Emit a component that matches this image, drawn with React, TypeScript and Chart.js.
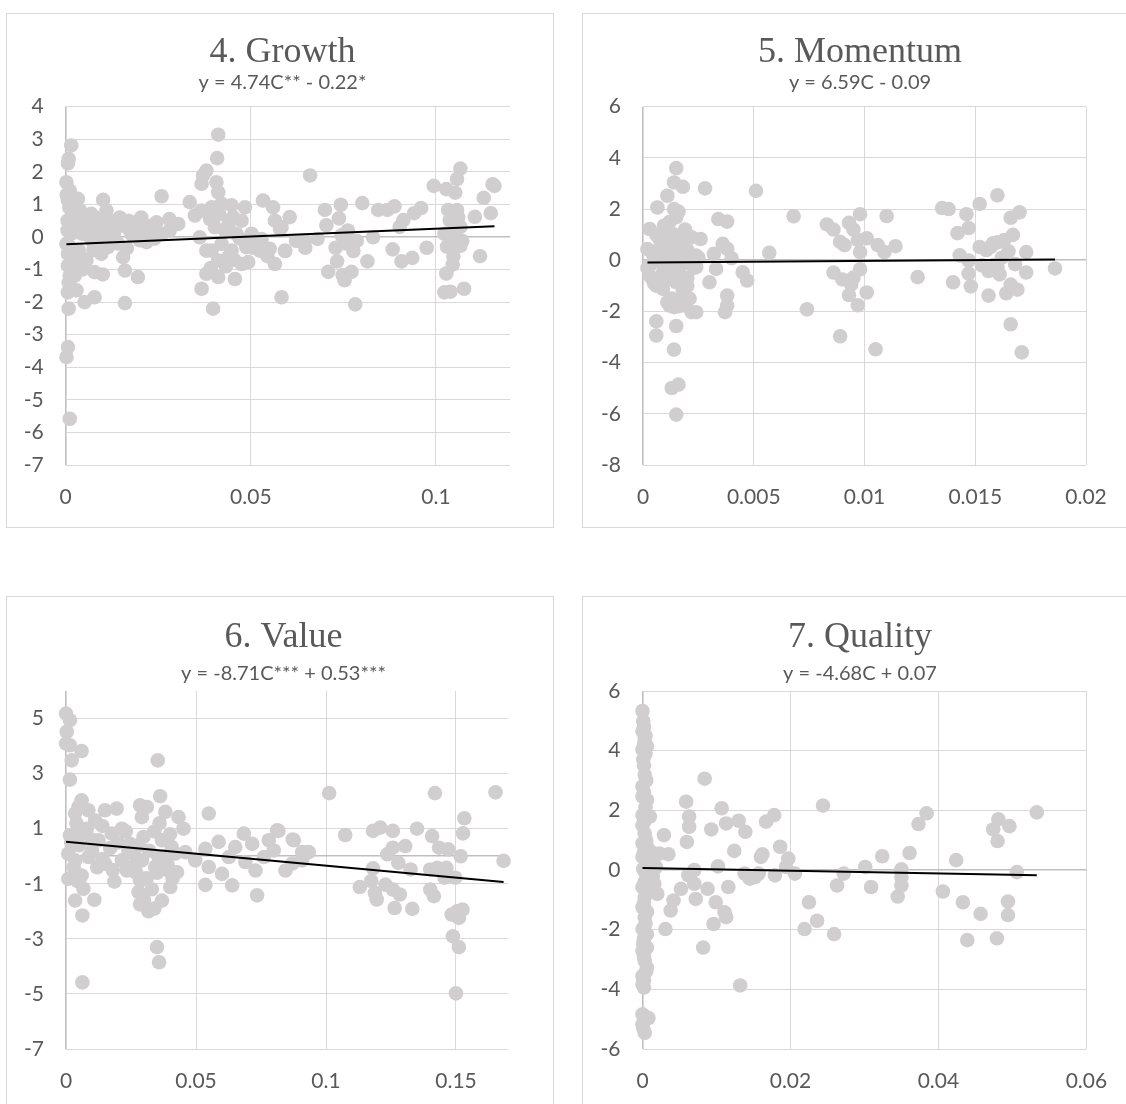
import React, { useEffect, useRef } from 'react';
import { Chart, registerables } from 'chart.js';

Chart.register(...registerables);

// ---------- data (C, y) ----------
const growthPoints: [number, number][] = [
  [0.0015,2.81],[0.0008,2.40],[0.0006,2.26],[0.0002,1.68],[0.0011,1.42],[0.0006,1.12],[0.0033,1.17],[0.0101,1.14],[0.0110,0.81],[0.0069,0.71],[0.0024,0.71],[0.0051,0.50],[0.0087,0.40],[0.0119,0.30],[0.0146,0.60],[0.0150,0.35],[0.0173,0.20],[0.0204,0.60],[0.0245,0.45],[0.0259,1.25],[0.0218,-0.16],[0.0304,0.40],[0.0281,0.20],[0.0002,-0.21],[0.0006,-0.52],[0.0006,-0.88],[0.0011,-1.19],[0.0024,-1.19],[0.0078,-1.08],[0.0056,-0.72],[0.0096,-0.52],[0.0114,-0.31],[0.0006,-1.70],[0.0029,-1.64],[0.0051,-2.00],[0.0078,-1.85],[0.0008,-2.20],[0.0160,-2.03],[0.0195,-1.23],[0.0160,-1.03],[0.0155,-0.62],[0.0006,-3.38],[0.0002,-3.69],[0.0011,-5.58],
  [0.0010,0.90],[0.0020,0.50],[0.0030,0.30],[0.0015,0.10],[0.0040,0.80],[0.0045,0.10],[0.0060,0.30],[0.0070,-0.10],[0.0080,0.60],[0.0090,0.10],[0.0035,-0.40],[0.0020,-0.70],[0.0045,-1.00],[0.0010,-0.30],[0.0120,0.50],[0.0130,0.05],[0.0140,-0.20],[0.0170,0.50],[0.0190,0.30],[0.0220,0.35],[0.0240,-0.05],[0.0260,0.10],[0.0280,0.55],[0.0200,-0.10],[0.0165,-0.35],[0.0005,0.50],[0.0005,0.20],[0.0025,1.00],[0.0015,-0.90],[0.0003,1.30],[0.0030,0.60],[0.0050,0.65],[0.0065,0.05],[0.0100,-0.10],[0.0105,0.55],[0.0008,-1.40],[0.0040,-0.60],[0.0075,-0.40],[0.0085,0.20],[0.0100,-1.15],[0.0210,0.10],[0.0180,0.05],[0.0230,0.15],
  [0.0335,1.07],[0.0349,0.66],[0.0367,0.81],[0.0394,0.91],[0.0421,1.02],[0.0448,0.97],[0.0484,0.91],[0.0452,0.61],[0.0475,0.50],[0.0362,-0.01],[0.0394,-0.42],[0.0412,-0.72],[0.0380,-1.13],[0.0412,-1.23],[0.0367,-1.59],[0.0398,-2.20],[0.0457,-1.29],[0.0439,-0.62],[0.0475,-0.83],[0.0493,-0.77],[0.0511,-0.21],[0.0529,-0.06],[0.0524,-0.42],[0.0412,3.14],[0.0409,2.42],[0.0380,2.04],[0.0371,1.89],[0.0367,1.63],[0.0407,1.68],[0.0412,1.37],[0.0403,0.30],[0.0430,0.20],[0.0461,0.10],[0.0421,-0.21],[0.0448,-0.42],[0.0488,-0.31],[0.0380,-0.42],[0.0502,0.10],[0.0390,0.55],[0.0415,0.70],[0.0440,0.40],[0.0470,-0.05],[0.0392,-0.95],[0.0433,-0.90],[0.0455,-0.70],
  [0.0533,1.12],[0.0560,0.91],[0.0565,0.50],[0.0605,0.61],[0.0551,-0.36],[0.0592,-0.42],[0.0583,0.30],[0.0565,-0.83],[0.0583,-1.85],[0.0646,-0.11],[0.0660,1.89],[0.0545,-0.59],[0.0497,-0.12],[0.0507,-0.33],[0.0579,0.25],[0.0593,-0.43],[0.0622,-0.12],[0.0647,-0.33],[0.0680,-0.06],
  [0.0700,0.83],[0.0704,0.36],[0.0709,-1.07],[0.0743,0.99],[0.0738,0.57],[0.0729,-0.33],[0.0733,-0.75],[0.0748,-1.17],[0.0753,-1.33],[0.0772,-1.07],[0.0782,-2.07],[0.0777,-0.43],[0.0762,0.20],[0.0786,-0.12],[0.0745,0.05],[0.0758,-0.20],
  [0.0801,1.04],[0.0815,-0.75],[0.0830,-0.01],[0.0844,0.83],[0.0869,0.83],[0.0883,-0.38],[0.0888,0.94],[0.0902,0.31],[0.0907,-0.75],[0.0912,0.52],[0.0936,-0.64],[0.0941,0.73],[0.0960,0.89],[0.0975,-0.33],[0.0994,1.57],
  [0.1028,-1.12],[0.1028,1.47],[0.1033,0.83],[0.1037,0.52],[0.1042,-0.12],[0.1047,-0.59],[0.1023,-1.70],[0.1039,-1.68],[0.1076,-1.59],[0.1057,1.78],[0.1066,2.10],[0.1052,1.36],[0.1057,0.83],[0.1066,0.31],[0.1071,-0.12],[0.1066,-0.27],[0.1023,0.10],[0.1030,-0.30],[0.1050,0.20],[0.1060,0.60],[0.1045,-0.85],[0.1105,0.62],[0.1119,-0.59],[0.1129,1.20],[0.1148,0.73],[0.1153,1.62],[0.1158,1.57],
];

const momentumPoints: [number, number][] = [
  [0.0015,3.60],[0.0014,3.04],[0.0018,2.87],[0.0028,2.81],[0.0051,2.71],[0.0011,2.52],[0.00065,2.06],[0.0014,2.00],[0.0015,1.68],[0.0034,1.61],[0.0038,1.51],[0.0068,1.72],[0.0003,1.22],[0.00095,1.35],[0.0012,1.09],[0.0017,0.96],[0.0021,0.90],[0.0026,0.83],[0.0036,0.64],[0.0038,0.45],[0.0057,0.29],[0.0024,0.18],[0.0032,0.25],[0.0040,0.08],[0.0002,0.44],[0.0003,-0.21],[0.0003,-0.60],[0.0006,-0.99],[0.0009,-0.47],[0.0012,-0.73],[0.0015,-0.86],[0.0018,-1.38],[0.0011,-1.64],[0.0014,-1.83],[0.0009,-1.12],[0.0005,0.18],[0.0008,0.57],[0.0017,-0.21],[0.0019,-1.77],[0.0012,-1.77],[0.0024,-0.27],[0.0033,-0.34],[0.0030,-0.86],[0.0045,-0.47],[0.0047,-0.79],[0.0022,-2.03],[0.0024,-2.03],[0.0038,-1.38],[0.0038,-1.77],[0.0037,-2.03],[0.0006,-2.39],[0.0006,-2.94],[0.0015,-2.57],[0.0014,-3.49],[0.0013,-4.99],[0.0016,-4.86],[0.0015,-6.03],[0.0074,-1.92],
  [0.0002,-0.30],[0.0004,-0.70],[0.0007,0.90],[0.0008,-0.90],[0.0010,0.10],[0.0011,0.60],[0.0012,1.50],[0.0013,0.30],[0.0013,-1.50],[0.0014,-0.20],[0.0014,1.00],[0.0015,0.50],[0.0016,-1.80],[0.0016,1.90],[0.0017,0.20],[0.0018,-1.20],[0.0018,0.80],[0.0019,-0.10],[0.0019,1.20],[0.0020,-0.70],[0.0020,0.40],[0.0021,-1.50],[0.0022,0.90],[0.0023,-0.30],[0.0005,-0.90],[0.0007,0.00],[0.0009,0.70],[0.0004,0.30],[0.0006,1.00],[0.0010,-0.40],[0.0016,-0.50],[0.0020,-1.00],[0.0009,-0.15],[0.0025,0.10],
  [0.0083,1.40],[0.0086,1.20],[0.0089,0.72],[0.0091,0.59],[0.0086,-0.48],[0.0090,-0.75],[0.0093,1.46],[0.0098,1.80],[0.0095,1.20],[0.0097,0.79],[0.0101,0.86],[0.0098,0.32],[0.0098,-0.35],[0.0095,-0.68],[0.0094,-0.95],[0.0093,-1.36],[0.0101,-1.26],[0.0097,-1.76],[0.0089,-2.97],[0.0105,-3.48],[0.0106,0.59],[0.0109,0.32],[0.0110,1.73],[0.0114,0.55],[0.0124,-0.66],
  [0.0135,2.04],[0.0138,2.00],[0.0140,-0.86],[0.0142,1.06],[0.0146,1.80],[0.0147,1.26],[0.0143,0.19],[0.0147,-0.01],[0.0147,-0.52],[0.0148,-1.02],[0.0152,2.20],[0.0160,2.54],[0.0152,0.52],[0.0155,0.40],[0.0157,0.52],[0.0158,0.66],[0.0160,0.70],[0.0163,0.79],[0.0153,-0.20],[0.0156,-0.42],[0.0158,-0.20],[0.0160,-0.28],[0.0161,-0.55],[0.0156,-1.38],[0.0164,-1.29],[0.0166,-0.95],[0.0166,1.66],[0.0167,0.99],[0.0170,1.87],[0.0168,-0.15],[0.0169,-1.15],[0.0166,-2.50],[0.0171,-3.60],[0.0173,0.32],[0.0173,-0.48],[0.0186,-0.32],[0.0165,0.35],[0.0162,0.10],
];

const valuePoints: [number, number][] = [
  [0.0000,5.18],[0.0015,4.94],[0.0003,4.52],[0.0000,4.09],[0.0015,4.03],[0.0022,3.48],[0.0060,3.82],[0.0353,3.48],[0.0015,2.78],[0.0362,2.18],[0.0549,1.55],[0.0060,2.03],[0.0048,1.79],[0.0035,1.55],[0.0086,1.67],[0.0150,1.67],[0.0195,1.73],[0.0285,1.85],[0.0311,1.79],[0.0292,1.42],[0.0382,1.61],[0.0433,1.42],[0.0452,1.00],[0.0215,1.00],[0.0112,1.30],[0.0015,0.76],[0.0060,0.82],[0.0125,0.58],[0.0176,0.82],[0.0247,0.45],[0.0298,0.70],[0.0369,0.58],[0.0407,0.33],[0.0009,0.09],[0.0035,-0.15],[0.0086,-0.03],[0.0150,-0.27],[0.0215,-0.15],[0.0253,-0.39],[0.0292,-0.15],[0.0343,-0.39],[0.0394,-0.52],[0.0420,-0.58],[0.0009,-0.82],[0.0060,-0.70],[0.0067,-1.18],[0.0035,-1.61],[0.0109,-1.58],[0.0063,-2.15],[0.0186,-0.92],[0.0234,-0.52],[0.0285,-0.88],[0.0279,-1.30],[0.0285,-1.75],[0.0317,-2.00],[0.0369,-1.61],[0.0401,-1.12],[0.0427,-0.58],[0.0356,-0.03],[0.0350,-3.30],[0.0358,-3.85],[0.0063,-4.58],
  [0.0040,1.20],[0.0080,1.00],[0.0100,0.60],[0.0140,1.10],[0.0170,0.30],[0.0200,0.50],[0.0230,0.90],[0.0260,0.10],[0.0280,0.40],[0.0320,0.20],[0.0340,0.90],[0.0360,1.20],[0.0380,0.00],[0.0400,0.80],[0.0420,0.10],[0.0050,0.40],[0.0120,-0.40],[0.0180,-0.50],[0.0270,-0.60],[0.0310,-0.80],[0.0330,-1.20],[0.0350,-0.60],[0.0390,-0.30],[0.0410,-0.80],[0.0020,0.50],[0.0030,-0.40],[0.0100,0.20],[0.0140,-0.10],[0.0240,0.20],[0.0300,-1.60],[0.0340,-1.90],[0.0045,-0.90],
  [0.0459,0.15],[0.0497,-0.15],[0.0536,0.27],[0.0549,-0.39],[0.0587,0.52],[0.0536,-1.04],[0.0600,-0.64],[0.0639,-1.06],[0.0651,0.33],[0.0684,0.82],[0.0716,0.45],[0.0729,-0.52],[0.0735,-1.42],[0.0780,0.58],[0.0812,0.94],[0.0799,0.21],[0.0844,-0.52],[0.0876,0.58],[0.0908,0.15],[0.0934,0.15],[0.0761,-0.03],[0.0690,-0.21],[0.0626,-0.03],[0.0870,-0.27],[0.0908,-0.15],
  [0.0924,0.13],[0.0872,0.61],[0.0817,0.92],[0.1012,2.29],[0.1074,0.77],[0.1130,-1.12],[0.1181,0.92],[0.1209,1.04],[0.1181,-0.44],[0.1174,-0.90],[0.1188,-1.33],[0.1195,-1.57],[0.1236,0.07],[0.1257,0.31],[0.1257,0.92],[0.1229,-1.03],[0.1257,-1.21],[0.1284,-1.39],[0.1264,-1.88],[0.1305,0.37],[0.1278,-0.24],[0.1325,-0.48],[0.1332,-1.91],[0.1350,1.00],[0.1401,-0.48],[0.1408,0.73],[0.1428,-0.42],[0.1435,0.31],[0.1470,0.25],[0.1463,-0.42],[0.1456,-0.78],[0.1497,-0.78],[0.1518,0.00],[0.1419,2.29],[0.1401,-1.21],[0.1415,-1.45],[0.1483,-2.12],[0.1511,-2.24],[0.1525,-1.94],[0.1504,-2.00],[0.1488,-2.91],[0.1511,-3.30],[0.1500,-4.98],[0.1532,1.38],[0.1527,0.83],[0.1652,2.32],[0.1683,-0.17],
];

const qualityPoints: [number, number][] = [
  [0.0000,5.33],[0.0001,4.99],[0.0000,4.65],[0.0003,4.37],[0.0006,4.15],[0.0000,4.03],[0.0001,3.70],[0.0003,3.19],[0.0000,2.80],[0.0000,2.46],[0.0006,2.35],[0.0000,1.84],[0.0010,1.79],[0.0000,1.50],[0.0003,1.22],[0.0000,0.89],[0.0006,0.78],[0.0000,0.44],[0.0001,0.04],[0.0006,-0.24],[0.0000,-0.57],[0.0003,-0.91],[0.0000,-1.25],[0.0003,-1.58],[0.0000,-1.98],[0.0006,-2.15],[0.0001,-2.48],[0.0000,-2.71],[0.0003,-3.04],[0.0006,-3.27],[0.0000,-3.55],[0.0000,-3.83],[0.0002,-3.94],[0.0000,-4.84],[0.0008,-4.96],[0.0000,-5.18],[0.0003,-5.46],
  [0.0002,4.80],[0.0004,4.50],[0.0002,4.20],[0.0004,3.90],[0.0002,3.50],[0.0005,3.00],[0.0002,2.60],[0.0004,2.10],[0.0002,1.60],[0.0005,1.00],[0.0002,0.60],[0.0008,0.30],[0.0004,-0.10],[0.0003,-0.40],[0.0007,-0.70],[0.0002,-1.10],[0.0006,-1.40],[0.0004,-1.80],[0.0002,-2.30],[0.0006,-2.60],[0.0002,-2.90],[0.0005,-3.40],[0.0002,-3.70],[0.0003,-4.90],[0.0001,-5.30],
  [0.0015,0.44],[0.0018,0.10],[0.0020,-0.80],[0.0016,-0.46],[0.0011,-0.57],[0.0012,0.60],[0.0014,-0.20],
  [0.0029,1.17],[0.0035,0.53],[0.0023,0.55],[0.0031,-1.98],[0.0038,-1.36],[0.0042,-1.02],[0.0052,-0.63],[0.0059,2.29],[0.0063,1.79],[0.0063,1.45],[0.0060,0.94],[0.0062,-0.18],[0.0070,0.00],[0.0070,-0.46],[0.0072,-0.97],[0.0084,3.06],[0.0082,-2.60],[0.0093,1.36],[0.0088,-0.63],[0.0096,-1.81],[0.0099,-1.08],[0.0102,0.12],[0.0107,2.07],[0.0116,-0.57],[0.0113,1.56],[0.0130,1.65],[0.0111,-1.42],[0.0113,-1.58],[0.0124,0.64],[0.0139,1.28],[0.0132,-3.87],[0.0138,-0.12],[0.0145,-0.29],[0.0152,-0.24],[0.0157,-0.12],[0.0160,0.44],[0.0162,0.53],[0.0167,1.62],[0.0178,1.84],[0.0179,-0.18],[0.0186,0.78],[0.0197,0.38],[0.0194,0.10],[0.0206,-0.12],[0.0219,-1.98],[0.0225,-1.08],[0.0236,-1.70],[0.0244,2.16],[0.0259,-2.15],[0.0263,-0.52],[0.0272,-0.12],[0.0301,0.10],[0.0309,-0.57],[0.0324,0.46],[0.0345,-0.89],[0.0350,0.02],[0.0350,-0.24],[0.0350,-0.52],[0.0361,0.57],[0.0373,1.54],[0.0384,1.90],[0.0406,-0.72],[0.0424,0.33],[0.0433,-1.08],[0.0439,-2.35],[0.0457,-1.47],[0.0474,1.36],[0.0481,1.70],[0.0480,0.97],[0.0496,1.47],[0.0479,-2.29],[0.0494,-1.06],[0.0494,-1.51],[0.0506,-0.07],[0.0533,1.93],
];

const titles = ['4. Growth', '5. Momentum', '6. Value', '7. Quality'];
const equations = ['y = 4.74C** - 0.22*', 'y = 6.59C - 0.09', 'y = -8.71C*** + 0.53***', 'y = -4.68C + 0.07'];
const slopes = [4.74, 6.59, -8.71, -4.68];
const intercepts = [-0.22, -0.09, 0.53, 0.07];
const xMaxes = [0.12, 0.02, 0.17, 0.06];
const xTicks = [[0, 0.05, 0.1], [0, 0.005, 0.01, 0.015, 0.02], [0, 0.05, 0.1, 0.15], [0, 0.02, 0.04, 0.06]];
const yMins = [-7, -8, -7, -6];
const yMaxes = [4, 6, 6, 6];
const yTicks = [
  [-7, -6, -5, -4, -3, -2, -1, 0, 1, 2, 3, 4],
  [-8, -6, -4, -2, 0, 2, 4, 6],
  [-7, -5, -3, -1, 0, 1, 3, 5],
  [-6, -4, -2, 0, 2, 4, 6],
];
const yHiddenLabels = [[], [], [0], []];
const pointSets = [growthPoints, momentumPoints, valuePoints, qualityPoints];

// ---------- layout (page pixels) ----------
// cw is chosen so the canvas centre is the title centre; rightW is an empty right-hand
// box that pulls the plot's right edge in without moving the title.
const CANVAS_H = 513;
const LAYOUT = [
  { bx: 6, by: 13, cx: 7, cy: 14, cw: 551, axisW: 58.7, rightW: 48, tPadTop: 20.3, sPadTop: 2.4, sPadBottom: 14, xAxisH: 62 },
  { bx: 582, by: 13, cx: 583, cy: 14, cw: 554, axisW: 60, rightW: 51, tPadTop: 20.3, sPadTop: 2.4, sPadBottom: 14, xAxisH: 62 },
  { bx: 6, by: 596, cx: 7, cy: 597, cw: 553, axisW: 59, rightW: 52, tPadTop: 23, sPadTop: 7.5, sPadBottom: 7.5, xAxisH: 61 },
  { bx: 582, by: 596, cx: 583, cy: 597, cw: 554, axisW: 59.5, rightW: 50.6, tPadTop: 23, sPadTop: 7.5, sPadBottom: 7.5, xAxisH: 61 },
];
const GRID = '#d9d9d9';
const AXIS = '#bfbfbf';
const TEXT = '#595959';
const TICK_FONT = { family: 'Lato, "Noto Sans", sans-serif', size: 21 };

function fmt(v: number) {
  return String(Number(v.toFixed(4)));
}

function Panel({ idx }: { idx: number }) {
  const ref = useRef<HTMLCanvasElement | null>(null);
  const L = LAYOUT[idx];
  useEffect(() => {
    if (!ref.current) return;
    const pts = pointSets[idx];
    const xs = pts.map((p) => p[0]);
    const x0 = Math.min(...xs);
    const x1 = Math.max(...xs);
    const trend = [
      { x: x0, y: slopes[idx] * x0 + intercepts[idx] },
      { x: x1, y: slopes[idx] * x1 + intercepts[idx] },
    ];
    const gridColor = (ctx: any) => (ctx.tick && ctx.tick.value === 0 ? AXIS : GRID);
    const gridWidth = (ctx: any) => (ctx.tick && ctx.tick.value === 0 ? 1.6 : 1);
    const chart = new Chart(ref.current, {
      type: 'scatter',
      data: {
        datasets: [
          {
            label: 'trend',
            data: trend,
            showLine: true,
            borderColor: '#000000',
            borderWidth: 2,
            pointRadius: 0,
            order: 0,
            clip: false as any,
          },
          {
            label: 'points',
            data: pts.map((p) => ({ x: p[0], y: p[1] })),
            backgroundColor: '#d0cece',
            borderWidth: 0,
            pointRadius: 7.3,
            order: 1,
            clip: false as any,
          },
        ],
      },
      options: {
        animation: false,
        responsive: false,
        events: [],
        layout: { padding: 0 },
        plugins: {
          legend: { display: false },
          tooltip: { enabled: false },
          title: {
            display: true,
            text: titles[idx],
            color: TEXT,
            font: { family: '"Liberation Serif", "Times New Roman", serif', size: 36, weight: 'normal', lineHeight: 1 },
            padding: { top: L.tPadTop, bottom: 0 },
          },
          subtitle: {
            display: true,
            text: equations[idx],
            color: TEXT,
            font: { family: 'Lato, "Noto Sans", sans-serif', size: 20, weight: 'normal', lineHeight: 1 },
            padding: { top: L.sPadTop, bottom: L.sPadBottom },
          },
        },
        scales: {
          x: {
            type: 'linear',
            min: 0,
            max: xMaxes[idx],
            afterBuildTicks: (s: any) => {
              s.ticks = xTicks[idx].map((v) => ({ value: v }));
            },
            afterFit: (s: any) => {
              s.height = L.xAxisH;
            },
            grid: { color: gridColor, lineWidth: gridWidth, drawTicks: false },
            border: { display: false },
            ticks: {
              font: TICK_FONT,
              color: TEXT,
              padding: 20,
              autoSkip: false,
              maxRotation: 0,
              callback: (v: any) => fmt(Number(v)),
            },
          },
          y: {
            type: 'linear',
            position: 'left',
            min: yMins[idx],
            max: yMaxes[idx],
            afterBuildTicks: (s: any) => {
              s.ticks = yTicks[idx].map((v) => ({ value: v }));
            },
            afterFit: (s: any) => {
              s.width = L.axisW;
            },
            grid: { color: gridColor, lineWidth: gridWidth, drawTicks: false },
            border: { display: false },
            ticks: {
              font: TICK_FONT,
              color: TEXT,
              padding: 22,
              autoSkip: false,
              callback: (v: any) => (yHiddenLabels[idx].includes(Number(v)) ? '' : fmt(Number(v))),
            },
          },
          spacer: {
            type: 'linear',
            position: 'right',
            display: true,
            grid: { display: false, drawTicks: false },
            border: { display: false },
            ticks: { display: false },
            afterFit: (s: any) => {
              s.width = L.rightW;
            },
          },
        },
      } as any,
    });
    return () => chart.destroy();
  }, [idx]);

  return (
    <>
      <div
        style={{
          position: 'absolute',
          left: L.bx,
          top: L.by,
          width: L.bx > 300 ? 620 : 548,
          height: L.by > 300 ? 620 : 515,
          border: '1px solid #d9d9d9',
          boxSizing: 'border-box',
        }}
      />
      <canvas
        ref={ref}
        width={L.cw}
        height={CANVAS_H}
        style={{ position: 'absolute', left: L.cx, top: L.cy, width: L.cw, height: CANVAS_H }}
      />
    </>
  );
}

export default function App() {
  return (
    <div
      style={{
        position: 'fixed',
        left: 0,
        top: 0,
        width: 1126,
        height: 1104,
        overflow: 'hidden',
        background: '#ffffff',
      }}
    >
      {[0, 1, 2, 3].map((i) => (
        <Panel key={i} idx={i} />
      ))}
    </div>
  );
}
